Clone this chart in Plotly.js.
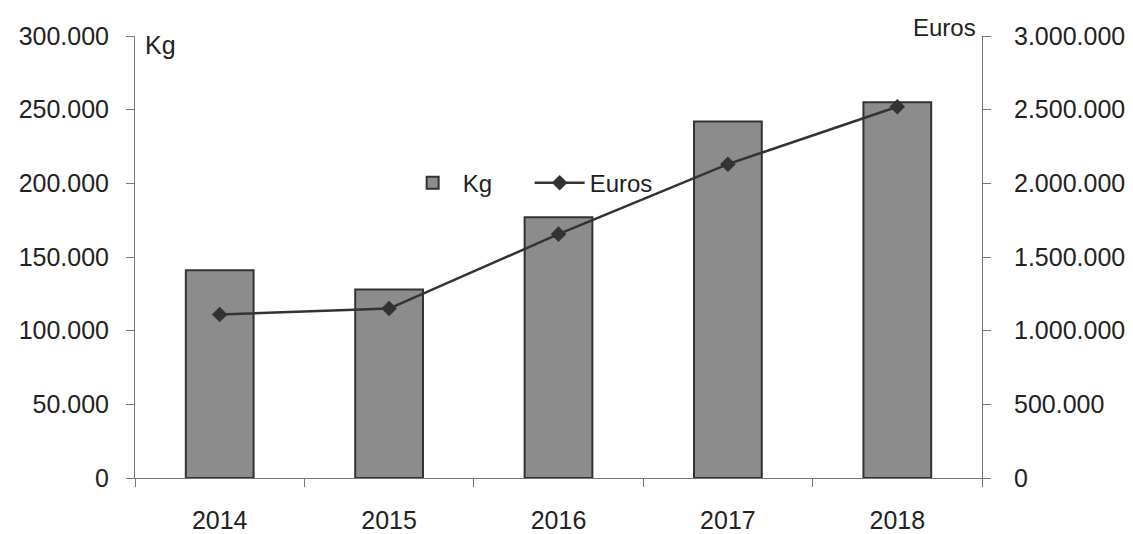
<!DOCTYPE html>
<html>
<head>
<meta charset="utf-8">
<script src="https://cdn.plot.ly/plotly-3.0.1.min.js"></script>
<style>
  html, body { margin: 0; padding: 0; background: #fff; }
  #chart { width: 1133px; height: 534px; }
</style>
</head>
<body>
<div id="chart"></div>
<script>
const years = ["2014", "2015", "2016", "2017", "2018"];
const kg = [141000, 128000, 177000, 242000, 255000];
const euros = [1110000, 1150000, 1655000, 2130000, 2520000];
const kgTicks = [0, 50000, 100000, 150000, 200000, 250000, 300000];
const euroTicks = [0, 500000, 1000000, 1500000, 2000000, 2500000, 3000000];

const fam = "Liberation Sans, Arial, sans-serif";
const tickFont = { family: fam, size: 25, color: "#222" };

const traces = [
  {
    type: "bar", name: "Kg", x: years, y: kg, width: 0.4,
    marker: { color: "#8c8c8c", line: { color: "#333", width: 2 } },
    yaxis: "y"
  },
  {
    type: "scatter", mode: "lines+markers", name: "Euros", x: years, y: euros,
    line: { color: "#333", width: 2.5 },
    marker: { symbol: "diamond", size: 12, color: "#333" },
    yaxis: "y2"
  }
];

const layout = {
  width: 1133, height: 534,
  margin: { l: 135, r: 151, t: 36, b: 56 },
  paper_bgcolor: "#fff", plot_bgcolor: "#fff",
  separators: ",.",
  font: { family: fam, size: 25, color: "#222" },
  showlegend: true,
  legend: {
    orientation: "h", x: 0.316, y: 0.667, xanchor: "left", yanchor: "middle",
    font: { family: fam, size: 24, color: "#222" },
    bgcolor: "rgba(0,0,0,0)", itemwidth: 50, entrywidth: 62, tracegroupgap: 0
  },
  xaxis: {
    type: "category", range: [-0.5, 4.5],
    showline: true, linecolor: "#777", linewidth: 1,
    ticks: "outside", tickson: "boundaries", ticklen: 8, tickcolor: "#777",
    ticklabelstandoff: 20,
    showgrid: false, zeroline: false,
    tickfont: tickFont
  },
  yaxis: {
    range: [0, 300000], tickvals: kgTicks,
    showline: true, linecolor: "#777", linewidth: 1,
    ticks: "outside", ticklen: 8, tickcolor: "#777", ticklabelstandoff: 12,
    showgrid: false, zeroline: false, tickformat: ",d",
    tickfont: tickFont
  },
  yaxis2: {
    overlaying: "y", side: "right",
    range: [0, 3000000], tickvals: euroTicks,
    showline: true, linecolor: "#777", linewidth: 1,
    ticks: "outside", ticklen: 8, tickcolor: "#777", ticklabelstandoff: 18,
    showgrid: false, zeroline: false, tickformat: ",d",
    tickfont: tickFont
  },
  annotations: [
    { text: "Kg", xref: "paper", yref: "paper", x: 0.01, y: 0.98, xanchor: "left", yanchor: "middle",
      showarrow: false, font: { family: fam, size: 25, color: "#222" } },
    { text: "Euros", xref: "paper", yref: "paper", x: 0.995, y: 1.02, xanchor: "right", yanchor: "middle",
      showarrow: false, font: { family: fam, size: 24, color: "#222" } }
  ]
};

Plotly.newPlot("chart", traces, layout, { displayModeBar: false, staticPlot: true });
</script>
</body>
</html>
